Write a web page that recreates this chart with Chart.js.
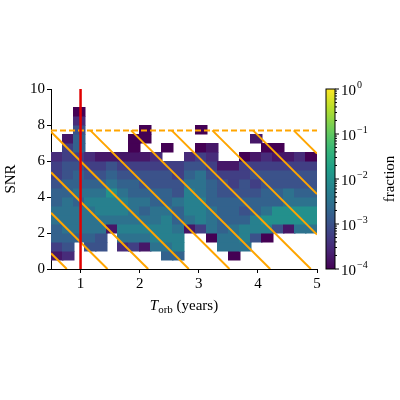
<!DOCTYPE html>
<html><head><meta charset="utf-8">
<script src="https://cdn.jsdelivr.net/npm/chart.js@4"></script>
<style>html,body{margin:0;background:#fff}#w{width:400px;height:400px}</style>
</head><body><div id="w"><canvas id="c"></canvas></div>
<script>
// 2D histogram: x bins 0.5..5 (24 bins of 0.1875 yr), y bins 0..10 (20 bins of 0.5 SNR)
const xEdgeMin = 0.5, xBinW = 0.1875, yBinW = 0.5;
// each column string: row0 (bottom) .. row19; '.' empty, digit d -> log10(fraction) = -4 + 0.25*d
const columns = [
".135566554332.......",
".24566665544331.....",
"...566656554355420..",
"..45666765432.......",
"..44667765431.......",
"....167786541.......",
"..26767765431.......",
"..3676665543100.....",
"..16765654431.00....",
"..67766554432.......",
".56777655443.0......",
".57765564433........",
"....167776542.......",
"....3777666430.0....",
"...06665554321......",
"..6655554431........",
".06665554331........",
"..67754544330.......",
"...4775543431.1.....",
"...07865544320......",
"....4885544310......",
"....188664431.......",
"....688654432.......",
"....688654430......."
];
const yTicks = [0,1,2,3,4,5,6,7,8,9,10];
const xTicks = [1,2,3,4,5];
const redLineX = 1.0;
const dashedSNR = 7.7;
const diagSlope = -3.27;
const diagIntercepts = [2.51,4.76,7.01,9.26,11.51,13.76,16.01,18.26,20.51,22.76];
const cbarExponents = [0,-1,-2,-3,-4];

const cells = [];
columns.forEach((s,i)=>{ for(let j=0;j<s.length;j++){ const ch=s[j]; if(ch!=='.') cells.push({x:xEdgeMin+i*xBinW, y:j*yBinW, v:-4+0.25*(+ch)}); }});

const vir=[[68,1,84],[72,40,120],[62,74,137],[49,104,142],[38,130,142],[31,158,137],[53,183,121],[109,205,89],[180,222,44],[253,231,37]];
function cmap(t){t=Math.max(0,Math.min(1,t));const p=t*(vir.length-1),i=Math.min(vir.length-2,Math.floor(p)),f=p-i;const a=vir[i],b=vir[i+1];return `rgb(${a.map((c,k)=>Math.round(c+(b[k]-c)*f)).join(',')})`;}

const SERIF='"Liberation Serif", "DejaVu Serif", serif';
const plug={id:'heat',
 beforeDatasetsDraw(ch){const {ctx,scales:{x,y},chartArea:a}=ch;ctx.save();ctx.beginPath();ctx.rect(a.left,a.top,a.right-a.left,a.bottom-a.top);ctx.clip();
  cells.forEach(c=>{const x0=x.getPixelForValue(c.x),x1=x.getPixelForValue(c.x+xBinW),y0=y.getPixelForValue(c.y),y1=y.getPixelForValue(c.y+yBinW);ctx.fillStyle=cmap((c.v+4)/4);ctx.fillRect(Math.floor(x0),Math.floor(y1),Math.ceil(x1-x0)+0.5,Math.ceil(y0-y1)+0.5);});
  ctx.strokeStyle='#ffa500';ctx.lineWidth=2;
  diagIntercepts.forEach(c=>{let xa=xEdgeMin,ya=c+diagSlope*xa;if(ya>dashedSNR&&c>9){ya=dashedSNR;xa=(dashedSNR-c)/diagSlope;} let xb=5,yb=c+diagSlope*xb;if(yb<0){yb=0;xb=-c/diagSlope;}
   if(xa>5)return;ctx.beginPath();ctx.moveTo(x.getPixelForValue(xa),y.getPixelForValue(ya));ctx.lineTo(x.getPixelForValue(xb),y.getPixelForValue(yb));ctx.stroke();});
  ctx.setLineDash([6,3]);ctx.beginPath();ctx.moveTo(a.left,y.getPixelForValue(dashedSNR));ctx.lineTo(a.right,y.getPixelForValue(dashedSNR));ctx.stroke();ctx.setLineDash([]);
  ctx.strokeStyle='#e00000';ctx.lineWidth=2.5;ctx.beginPath();ctx.moveTo(x.getPixelForValue(redLineX),a.top);ctx.lineTo(x.getPixelForValue(redLineX),a.bottom);ctx.stroke();
  ctx.restore();},
 afterDraw(ch){const {ctx,chartArea:a}=ch;ctx.save();ctx.fillStyle='#000';
  ctx.font='15px '+SERIF;ctx.textBaseline='alphabetic';const cx=(a.left+a.right)/2,by=a.bottom+41;
  const t1='T',t2='orb',t3=' (years)';ctx.font='italic 15px '+SERIF;const w1=ctx.measureText(t1).width;ctx.font='11px '+SERIF;const w2=ctx.measureText(t2).width;ctx.font='15px '+SERIF;const w3=ctx.measureText(t3).width;
  let sx=cx-(w1+w2+w3)/2;ctx.font='italic 15px '+SERIF;ctx.fillText(t1,sx,by);ctx.font='11px '+SERIF;ctx.fillText(t2,sx+w1,by+3);ctx.font='15px '+SERIF;ctx.fillText(t3,sx+w1+w2,by);
  ctx.save();ctx.translate(a.left-36,(a.top+a.bottom)/2);ctx.rotate(-Math.PI/2);ctx.textAlign='center';ctx.fillText('SNR',0,0);ctx.restore();
  const L=a.right+9,R=L+9,T=a.top,B=a.bottom;const g=ctx.createLinearGradient(0,B,0,T);for(let k=0;k<=20;k++)g.addColorStop(k/20,cmap(k/20));ctx.fillStyle=g;ctx.fillRect(L,T,R-L,B-T);
  ctx.strokeStyle='#000';ctx.lineWidth=1;ctx.strokeRect(L,T,R-L,B-T);
  const ly=e=>B-(e+4)/4*(B-T);
  cbarExponents.forEach(e=>{const yy=ly(e);ctx.beginPath();ctx.moveTo(R,yy);ctx.lineTo(R+4,yy);ctx.stroke();ctx.fillStyle='#000';ctx.font='15px '+SERIF;ctx.textBaseline='middle';ctx.textAlign='left';ctx.fillText('10',R+6,yy+2);const w=ctx.measureText('10').width;ctx.font='10px '+SERIF;ctx.fillText(e===0?'0':'\u2212'+(-e),R+6+w+1,yy-4);});
  for(let e=-4;e<0;e++)for(let m=2;m<10;m++){const yy=ly(e+Math.log10(m));ctx.beginPath();ctx.moveTo(R,yy);ctx.lineTo(R+2,yy);ctx.stroke();}
  ctx.save();ctx.translate(R+55,(T+B)/2);ctx.rotate(-Math.PI/2);ctx.textAlign='center';ctx.textBaseline='middle';ctx.font='15px '+SERIF;ctx.fillText('fraction',0,0);ctx.restore();
  ctx.restore();}};

new Chart(document.getElementById('c'),{type:'scatter',data:{datasets:[{data:[],pointRadius:0}]},plugins:[plug],
 options:{responsive:true,maintainAspectRatio:false,animation:false,events:[],
  layout:{padding:{left:20,right:83,top:89,bottom:91}},
  plugins:{legend:{display:false},tooltip:{enabled:false}},
  scales:{
   x:{type:'linear',min:0.5,max:5,afterBuildTicks:s=>{s.ticks=xTicks.map(v=>({value:v}));},afterFit:s=>{s.height=40;},
      grid:{drawOnChartArea:false,drawTicks:true,tickLength:4,color:'#000'},border:{color:'#000',width:1},
      ticks:{color:'#000',font:{family:SERIF,size:15},padding:2,maxRotation:0}},
   y:{type:'linear',min:0,max:10,afterBuildTicks:s=>{s.ticks=yTicks.map(v=>({value:v}));},afterFit:s=>{s.width=31;},
      grid:{drawOnChartArea:false,drawTicks:true,tickLength:4,color:'#000'},border:{color:'#000',width:1},
      ticks:{color:'#000',font:{family:SERIF,size:15},padding:2}}
  }}});
</script></body></html>
